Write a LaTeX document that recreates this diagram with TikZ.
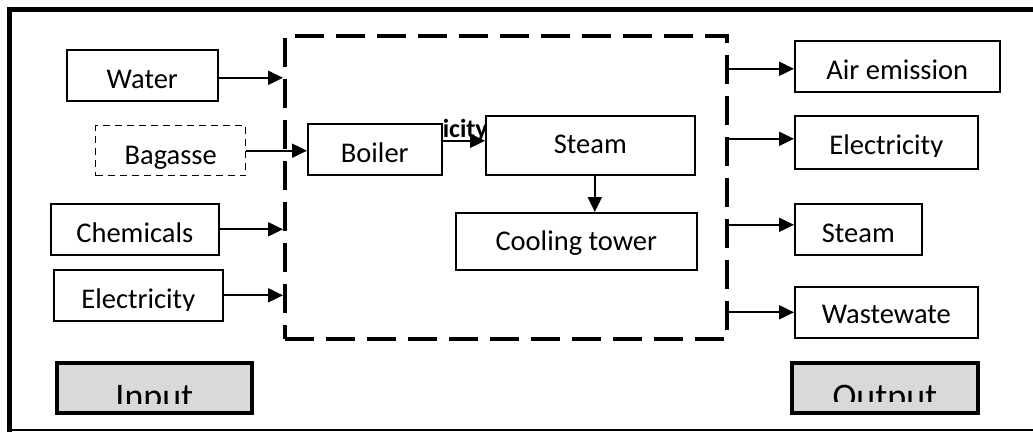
\documentclass[tikz,border=0pt]{standalone}
\usepackage{fontspec}
\setmainfont{Carlito}
\usetikzlibrary{arrows.meta}
\definecolor{boxgray}{RGB}{217,217,217}
\tikzset{
  bx/.style={draw, line width=1.6pt, fill=white, inner sep=0pt, anchor=north west},
  dbx/.style={bx, line width=1.4pt, dash pattern=on 7pt off 5pt},
  iobox/.style={draw, line width=3.8pt, fill=boxgray, inner sep=0pt, anchor=north west},
  sysbox/.style={draw, line width=4.2pt, dash pattern=on 29pt off 12pt, inner sep=0pt, anchor=north west},
  lbl/.style={inner sep=0pt, anchor=base, font=\fontsize{28.5pt}{34pt}\selectfont},
  biglbl/.style={inner sep=0pt, anchor=base, font=\fontsize{36pt}{42pt}\selectfont},
  boldlbl/.style={inner sep=0pt, anchor=base east, font=\bfseries\fontsize{26pt}{30pt}\selectfont},
  arr/.style={line width=2pt, -{Triangle[length=15pt,width=14pt]}},
  frame/.style={line width=5pt},
}
\begin{document}
\begin{tikzpicture}[x=1pt,y=-1pt]
\useasboundingbox (0,0) rectangle (1033,432);
% outer frame
\draw[frame] (9.5,432) -- (9.5,9.3) -- (1033,9.3);
\draw[line width=1.2pt] (9.5,430) -- (1033,430);
% system boundary
\node[sysbox, minimum width=442pt, minimum height=303pt] (sys) at (283,34) {};
% boxes
\node[bx, minimum width=151pt, minimum height=51pt] (water) at (66,49) {};
\node[dbx, minimum width=150pt, minimum height=50pt] (bagasse) at (95,125) {};
\node[bx, minimum width=168pt, minimum height=51pt] (chem) at (50,203) {};
\node[bx, minimum width=169pt, minimum height=51pt] (elecL) at (53,269) {};
\node[iobox, minimum width=195.5pt, minimum height=50.5pt] (input) at (54.75,360.75) {};
\node[bx, minimum width=134pt, minimum height=51pt] (boiler) at (307,123) {};
\node[bx, minimum width=209pt, minimum height=59pt] (steam) at (485,115) {};
\node[bx, minimum width=241pt, minimum height=57pt] (cool) at (455,212) {};
\node[bx, minimum width=205pt, minimum height=51pt] (air) at (794,40) {};
\node[bx, minimum width=183pt, minimum height=53pt] (elecR) at (794,115) {};
\node[bx, minimum width=127pt, minimum height=51pt] (steamR) at (794,203) {};
\node[bx, minimum width=183pt, minimum height=51pt] (waste) at (794,286) {};
\node[iobox, minimum width=186.5pt, minimum height=50.5pt] (output) at (789.75,360.75) {};
% bold label partly hidden between boiler and steam
\begin{scope}
  \clip (boiler.east |- steam.north) rectangle (steam.south west);
  \node[boldlbl] (elecB) at (488,137) {Electricity};
\end{scope}
% labels
\node[lbl] (waterT) at ([yshift=-39pt]water.north) {Water};
\begin{scope}
  \clip ([yshift=7pt]bagasse.south west) rectangle (bagasse.north east);
  \node[lbl] (bagT) at ([yshift=-39pt]bagasse.north) {Bagasse};
\end{scope}
\node[lbl] (chemT) at ([yshift=-39pt]chem.north) {Chemicals};
\begin{scope}
  \clip ([yshift=11pt]elecL.south west) rectangle (elecL.north east);
  \node[lbl] (elecLT) at ([yshift=-39pt]elecL.north) {Electricity};
\end{scope}
\node[lbl] (boilerT) at ([yshift=-39pt]boiler.north) {Boiler};
\node[lbl] (steamT) at ([yshift=-38pt]steam.north) {Steam};
\node[lbl] (coolT) at ([yshift=-38pt]cool.north) {Cooling tower};
\node[lbl] (airT) at ([yshift=-39pt]air.north) {Air emission};
\begin{scope}
  \clip ([yshift=13pt]elecR.south west) rectangle (elecR.north east);
  \node[lbl] (elecRT) at ([yshift=-39pt]elecR.north) {Electricity};
\end{scope}
\node[lbl] (steamRT) at ([yshift=-39pt]steamR.north) {Steam};
\node[lbl] (wasteT) at ([yshift=-37pt]waste.north) {Wastewate};
\begin{scope}
  \clip ([yshift=12pt]input.south west) rectangle (input.north east);
  \node[biglbl] (inputT) at ([yshift=-47.25pt]input.north) {Input};
\end{scope}
\begin{scope}
  \clip ([yshift=14pt]output.south west) rectangle (output.north east);
  \node[biglbl] (outputT) at ([yshift=-47.25pt]output.north) {Output};
\end{scope}
% arrows in
\coordinate (wa) at ([yshift=-2.5pt]water.east);
\draw[arr] (wa) -- (wa -| sys.west);
\draw[arr] (bagasse.east) -- (bagasse.east -| boiler.west);
\draw[arr] (chem.east) -- (chem.east -| sys.west);
\draw[arr] (elecL.east) -- (elecL.east -| sys.west);
% inner arrows
\coordinate (bs) at ([yshift=8.5pt]boiler.east);
\draw[arr] (bs) -- (bs -| steam.west);
\coordinate (sc) at ([xshift=4.5pt]steam.south);
\draw[arr] (sc) -- (sc |- cool.north);
% arrows out
\coordinate (a1) at ([yshift=-2.5pt]air.west);
\draw[arr] (a1 -| sys.east) -- (a1);
\coordinate (a2) at ([yshift=3.5pt]elecR.west);
\draw[arr] (a2 -| sys.east) -- (a2);
\coordinate (a3) at ([yshift=4.5pt]steamR.west);
\draw[arr] (a3 -| sys.east) -- (a3);
\draw[arr] (waste.west -| sys.east) -- (waste.west);
\end{tikzpicture}
\end{document}
